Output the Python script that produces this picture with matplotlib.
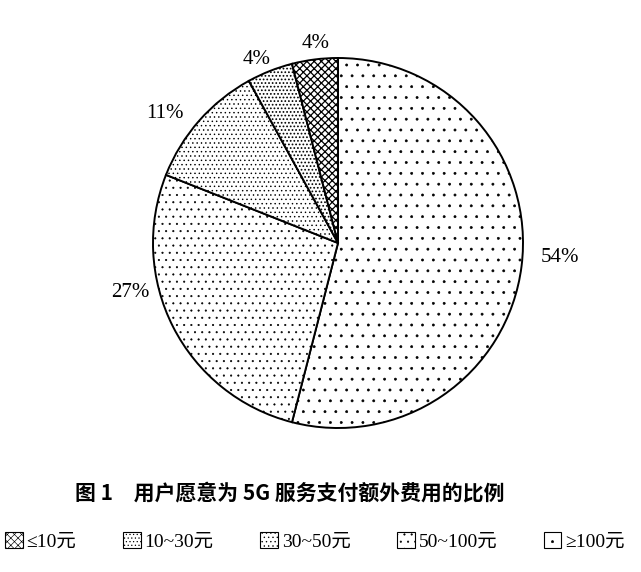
import matplotlib.pyplot as plt
from matplotlib.patches import Patch

# render at 130 dpi so the hatch dots come out as fine as in the print
DPI = 130
k = 100 / DPI  # converts sizes tuned at 100 dpi

plt.rcParams['font.family'] = ['Liberation Serif', 'Noto Sans CJK SC', 'DejaVu Sans']
plt.rcParams['hatch.linewidth'] = 0.45 * k

# slices clockwise from the top
categories = ['≥100元', '50~100元', '30~50元', '10~30元', '≤10元']
shares = [54, 27, 11, 4, 4]
labels = ['54%', '27%', '11%', '4%', '4%']
hatches = ['..', '...', '.....', '......', 'xxxxxx']
hatch_lw = [0.45, 0.45, 0.5, 0.8, 0.9]
# where the percent labels sit (axes units, radius = 1)
label_pos = [(1.2, -0.08), (-1.12, -0.265), (-0.935, 0.70), (-0.44, 0.99), (-0.12, 1.08)]

fig = plt.figure(figsize=(641 / DPI, 572 / DPI), dpi=DPI)
ax = fig.add_axes([(338 - 185) / 641, (572 - 243 - 185) / 572, 370 / 641, 370 / 572])

wedges, texts = ax.pie(shares, labels=labels, startangle=90, counterclock=False,
                       colors=['white'] * 5, labeldistance=1.1,
                       wedgeprops=dict(edgecolor='black', linewidth=1.4 * k),
                       textprops=dict(fontsize=15 * k))
for w, h, lw in zip(wedges, hatches, hatch_lw):
    w.set_hatch(h)
    if hasattr(w, 'set_hatch_linewidth'):
        w.set_hatch_linewidth(lw * k)
for t, p in zip(texts, label_pos):
    t.set_position(p)
    t.set_ha('center')
    t.set_va('center')
ax.set_xlim(-1, 1)
ax.set_ylim(-1, 1)
ax.set_aspect('equal')

fig.text(290 / 641, 1 - 493 / 572, '图 1　用户愿意为 5G 服务支付额外费用的比例',
         ha='center', va='center', fontsize=15 * k, fontweight='bold',
         family=['Noto Sans CJK SC', 'DejaVu Sans'])

handles = []
for h, lw in zip(hatches[::-1], hatch_lw[::-1]):
    p = Patch(facecolor='white', edgecolor='black', hatch=h, linewidth=0.8 * k)
    if hasattr(p, 'set_hatch_linewidth'):
        p.set_hatch_linewidth(lw * k)
    handles.append(p)
fig.legend(handles, categories[::-1], loc='center', bbox_to_anchor=(315 / 641, 1 - 541 / 572),
           ncol=5, frameon=False, handlelength=0.9, handleheight=0.9,
           handletextpad=0.2, columnspacing=2.4,
           prop=dict(family=['Liberation Serif', 'Noto Sans CJK SC', 'DejaVu Sans'], size=14 * k))

fig.savefig('out.png', dpi=DPI)
